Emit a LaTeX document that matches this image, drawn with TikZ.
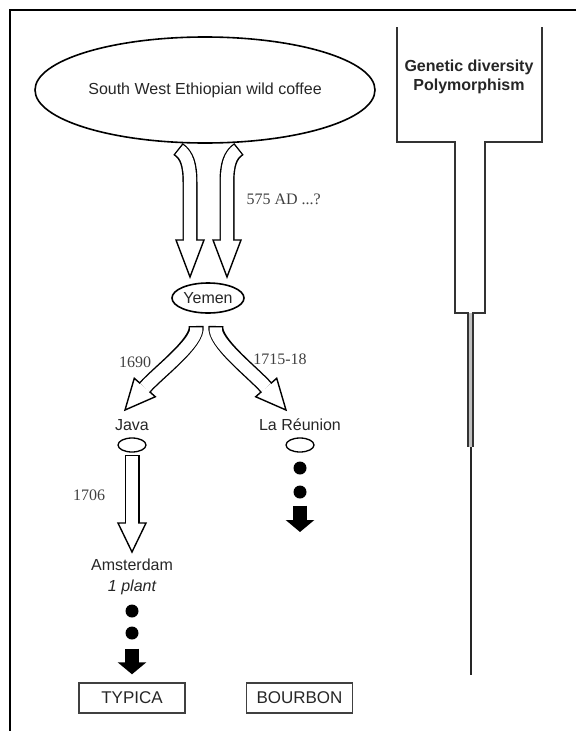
\documentclass[tikz,border=0pt]{standalone}
\usepackage{fontspec}
\setmainfont{Liberation Sans}
\newfontfamily\datefont{Liberation Serif}
\usetikzlibrary{shapes.geometric,calc,arrows.meta}

% hollow arrow: #1 shaft path ending at base #2, tip #3
\newcommand\hollowarrow[3]{%
	\draw[shaft out] #1;
	\filldraw[hollow head] ($(#2)!14pt!90:(#3)$) -- (#3) -- ($(#2)!14pt!-90:(#3)$) -- cycle;
	\draw[shaft in] #1;
	\draw[shaft in,shorten <=0pt] (#2) -- ($(#2)!3pt!(#3)$);
}

\begin{document}
\begin{tikzpicture}[x=1pt,y=-1pt,
	every node/.style={font=\fontsize{16}{19}\selectfont,text=black!85},
	place/.style={draw,ellipse,line width=1.6pt,inner sep=0pt},
	date/.style={font=\datefont\fontsize{16}{19}\selectfont,text=black!75},
	dot/.style={circle,fill=black,inner sep=0pt,minimum size=13pt},
	variety/.style={draw=black!75,line width=1.4pt,minimum width=106pt,minimum height=30pt,inner sep=0pt,font=\fontsize{17}{19}\selectfont},
	shaft out/.style={line width=15pt,black},
	shaft in/.style={line width=12.2pt,white,shorten <=1.4pt},
	hollow head/.style={fill=white,draw=black,line width=1.4pt,line join=miter},
	solid arrow/.style={line width=14pt,-{Triangle[width=28pt,length=12pt]}},
	funnel/.style={line width=1.3pt,black!80}]
	\useasboundingbox (0,0) rectangle (576,731);
	% frame
	\draw[line width=2.5pt] (576,10) -- (10,10) -- (10,731);
	% places
	\node[place,minimum width=340pt,minimum height=106pt] (ethiopia) at (205,90) {South West Ethiopian wild coffee};
	\node[place,minimum width=72pt,minimum height=30pt] (yemen) at (208,298) {Yemen};
	\node (java) at (132,425) {Java};
	\node[place,minimum width=28pt,minimum height=14pt,line width=1.3pt] (javaring) at (132,445) {};
	\node (reunion) at (300,425) {La R\'eunion};
	\node[place,minimum width=28pt,minimum height=14pt,line width=1.3pt] (reunionring) at (300,445) {};
	\node (amsterdam) at (132,565) {Amsterdam};
	\node[font=\fontsize{16}{19}\selectfont\itshape] (plant) at (132,587) {1 plant};
	% Ethiopia to Yemen
	\coordinate (ea) at (178,149);
	\coordinate (eab) at (190,240);
	\coordinate (eat) at (190,277);
	\hollowarrow{(ea) .. controls (187,155) and (190,165) .. (190,182) -- (eab)}{eab}{eat}
	\coordinate (eb) at (239,149);
	\coordinate (ebb) at (227,240);
	\coordinate (ebt) at (227,277);
	\hollowarrow{(eb) .. controls (230,155) and (227,165) .. (227,182) -- (ebb)}{ebb}{ebt}
	\node[date,anchor=west] (date575) at (243,199) {575 AD ...?};
	% Yemen to Java and La Reunion
	\coordinate (ya) at (196,326);
	\coordinate (yab) at (144.8,387.5);
	\coordinate (yat) at (125,410);
	\hollowarrow{(ya) .. controls (199,342) and (158,372.5) .. (yab)}{yab}{yat}
	\coordinate (yb) at (216,326);
	\coordinate (ybb) at (266.2,387.5);
	\coordinate (ybt) at (286,410);
	\hollowarrow{(yb) .. controls (213,342) and (253,372.5) .. (ybb)}{ybb}{ybt}
	\node[date] (date1690) at (135,362) {1690};
	\node[date] (date1715) at (280,359) {1715-18};
	% Java to Amsterdam
	\coordinate (ja) at (132,455);
	\coordinate (jab) at (132,523);
	\coordinate (jat) at (132,552);
	\hollowarrow{(ja) -- (jab)}{jab}{jat}
	\node[date] (date1706) at (89,495) {1706};
	% Amsterdam to Typica
	\node[dot] (adot1) at (132,611) {};
	\node[dot] (adot2) at (132,633) {};
	\node[variety] (typica) at (132,698) {TYPICA};
	\draw[solid arrow,shorten <=9pt,shorten >=8pt] (adot2) -- (typica);
	% La Reunion to Bourbon
	\node[dot] (rdot1) at (300,468) {};
	\node[dot] (rdot2) at (300,492) {};
	\coordinate (rend) at (300,532);
	\draw[solid arrow,shorten <=7pt] (rdot2) -- (rend);
	\node[variety] (bourbon) at (299.5,698) {BOURBON};
	% funnel
	\fill[black!25] (468,313) rectangle (473,447);
	\draw[funnel] (397,27) -- (397,142) -- (455,142) -- (455,313) -- (468,313) -- (468,447);
	\draw[funnel] (542,27) -- (542,142) -- (485,142) -- (485,313) -- (473,313) -- (473,447);
	\draw[line width=2pt,black!85] (471,447) -- (471,675);
	\node[font=\bfseries\fontsize{16}{19}\selectfont,align=center] (diversity) at (469,77) {Genetic diversity\\Polymorphism};
\end{tikzpicture}
\end{document}
